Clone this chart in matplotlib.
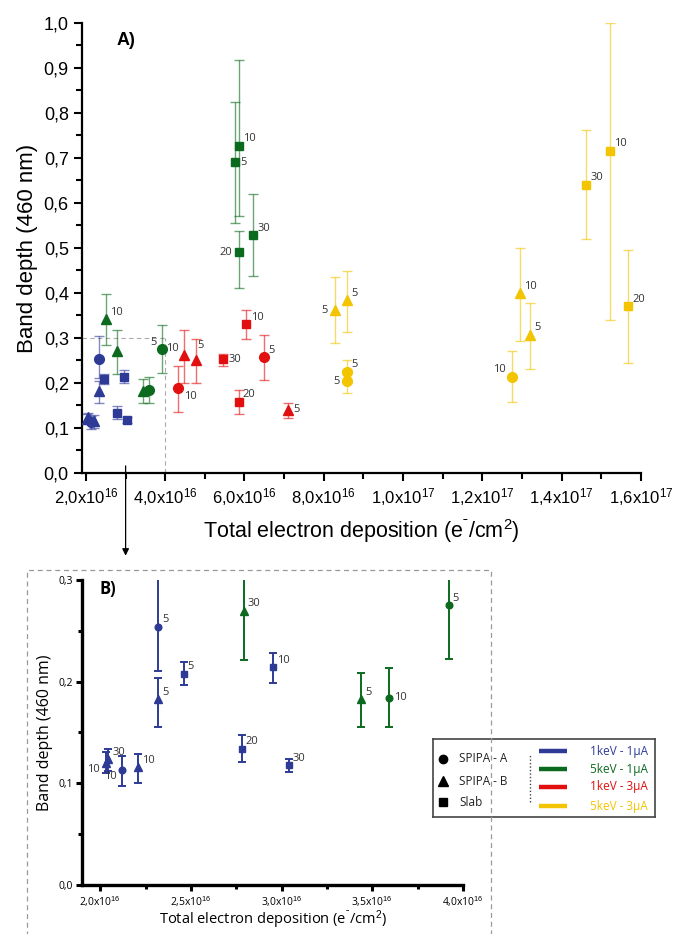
import numpy as np
import matplotlib
matplotlib.use('Agg')
import matplotlib.pyplot as plt
from matplotlib.ticker import MultipleLocator, FuncFormatter
from matplotlib.patches import Rectangle

plt.rcParams['mathtext.fontset'] = 'custom'
plt.rcParams['mathtext.rm'] = 'Liberation Sans'
plt.rcParams['mathtext.default'] = 'rm'

# ---- data (x: total electron deposition e-/cm2, y: band depth at 460 nm) ----
conditions = ['1keV - 1μA', '5keV - 1μA', '1keV - 3μA', '5keV - 3μA']
samples = ['SPIPA - A', 'SPIPA - B', 'Slab']

# 1keV - 1uA
s_1k1 = ['SPIPA - A', 'SPIPA - A', 'SPIPA - B', 'SPIPA - B', 'SPIPA - B', 'SPIPA - B', 'Slab', 'Slab', 'Slab', 'Slab']
x_1k1 = [2.12e16, 2.32e16, 2.03e16, 2.045e16, 2.21e16, 2.32e16, 2.46e16, 2.78e16, 2.95e16, 3.04e16]
y_1k1 = [0.113, 0.254, 0.120, 0.124, 0.116, 0.183, 0.208, 0.134, 0.214, 0.118]
lo_1k1 = [0.097, 0.210, 0.110, 0.112, 0.100, 0.155, 0.197, 0.121, 0.199, 0.111]
hi_1k1 = [0.127, 0.305, 0.131, 0.134, 0.129, 0.204, 0.219, 0.148, 0.228, 0.124]
t_1k1 = ['10', '5', '10', '30', '10', '5', '5', '20', '10', '30']

# 5keV - 1uA
s_5k1 = ['SPIPA - A', 'SPIPA - A', 'SPIPA - B', 'SPIPA - B', 'SPIPA - B', 'Slab', 'Slab', 'Slab', 'Slab']
x_5k1 = [3.59e16, 3.92e16, 2.50e16, 2.79e16, 3.44e16, 5.75e16, 5.87e16, 5.86e16, 6.22e16]
y_5k1 = [0.184, 0.275, 0.342, 0.270, 0.183, 0.690, 0.727, 0.491, 0.529]
lo_5k1 = [0.155, 0.222, 0.284, 0.221, 0.155, 0.555, 0.571, 0.412, 0.438]
hi_5k1 = [0.213, 0.329, 0.397, 0.318, 0.209, 0.824, 0.917, 0.538, 0.621]
t_5k1 = ['10', '5', '10', '30', '5', '5', '10', '20', '30']

# 1keV - 3uA
s_1k3 = ['SPIPA - A', 'SPIPA - A', 'SPIPA - B', 'SPIPA - B', 'SPIPA - B', 'Slab', 'Slab', 'Slab']
x_1k3 = [4.33e16, 6.50e16, 4.47e16, 4.77e16, 7.09e16, 5.45e16, 6.05e16, 5.85e16]
y_1k3 = [0.188, 0.257, 0.262, 0.250, 0.141, 0.253, 0.330, 0.158]
lo_1k3 = [0.136, 0.207, 0.201, 0.199, 0.122, 0.238, 0.297, 0.130]
hi_1k3 = [0.238, 0.307, 0.318, 0.297, 0.155, 0.264, 0.362, 0.184]
t_1k3 = ['10', '5', '10', '5', '5', '30', '10', '20']

# 5keV - 3uA
s_5k3 = ['SPIPA - A', 'SPIPA - A', 'SPIPA - A', 'SPIPA - B', 'SPIPA - B', 'SPIPA - B', 'SPIPA - B', 'Slab', 'Slab', 'Slab']
x_5k3 = [8.58e16, 8.58e16, 1.274e17, 8.28e16, 8.58e16, 1.296e17, 1.32e17, 1.463e17, 1.522e17, 1.568e17]
y_5k3 = [0.225, 0.204, 0.214, 0.362, 0.384, 0.400, 0.307, 0.641, 0.716, 0.370]
lo_5k3 = [0.200, 0.177, 0.158, 0.288, 0.313, 0.294, 0.232, 0.519, 0.341, 0.244]
hi_5k3 = [0.251, 0.231, 0.270, 0.436, 0.449, 0.499, 0.377, 0.762, 1.000, 0.496]
t_5k3 = ['5', '5', '10', '5', '5', '10', '5', '30', '10', '20']

# ---- style ----
colors = ['#2e3b96', '#0b6a1e', '#e10f0f', '#f3c400']
markers = {'SPIPA - A': 'o', 'SPIPA - B': '^', 'Slab': 's'}
msize_a = {'SPIPA - A': 7, 'SPIPA - B': 7.5, 'Slab': 6}
msize_b = {'SPIPA - A': 4.8, 'SPIPA - B': 5.5, 'Slab': 4.3}

# label placement for the time labels (None = not shown)
pos_a = [
    [None] * 10,
    [None, 'lu', 'ru', None, None, 'r', 'ru', 'l', 'ru'],
    ['rd', 'ru', 'lu', 'u', 'r', 'r', 'ru', 'ru'],
    ['ru', 'l', 'lu', 'l', 'ru', 'ru', 'ru', 'ru', 'ru', 'ru'],
]
pos_b = [
    ['ld', 'ru', 'ld', 'ru', 'ru', 'ru', 'ru', 'ru', 'ru', 'ru'],
    ['r', 'ru', None, 'ru', 'ru', None, None, None, None],
    [None] * 8,
    [None] * 10,
]
offsets = {
    'ru': (3, 1, 'left', 'bottom'), 'r': (4, 0, 'left', 'center'),
    'l': (-5, 0, 'right', 'center'), 'lu': (-4, 1, 'right', 'bottom'),
    'rd': (4, -2, 'left', 'top'), 'ld': (-4, -1, 'right', 'top'),
    'u': (1, 7, 'left', 'bottom'),
}

all_data = [
    (s_1k1, x_1k1, y_1k1, lo_1k1, hi_1k1, t_1k1),
    (s_5k1, x_5k1, y_5k1, lo_5k1, hi_5k1, t_5k1),
    (s_1k3, x_1k3, y_1k3, lo_1k3, hi_1k3, t_1k3),
    (s_5k3, x_5k3, y_5k3, lo_5k3, hi_5k3, t_5k3),
]


def sci_fmt(v, pos):
    if v <= 0:
        return ''
    exp = int(np.floor(np.log10(v) + 1e-9))
    mant = v / 10 ** exp
    return f'{mant:.1f}'.replace('.', ',') + 'x10$^{%d}$' % exp


def comma_fmt(v, pos):
    return f'{v:.1f}'.replace('.', ',')


def draw(ax, positions, msize, elw, alpha, capsize, fs, ymax):
    for ci, (s, x, y, lo, hi, t) in enumerate(all_data):
        c = colors[ci]
        for i in range(len(x)):
            if y[i] > ymax:
                continue  # point not shown in this panel
            yerr = [[y[i] - lo[i]], [hi[i] - y[i]]]
            ax.errorbar([x[i]], [y[i]], yerr=yerr, fmt='none', ecolor=c,
                        elinewidth=elw, capsize=capsize, capthick=elw, alpha=alpha, zorder=2)
            ax.plot([x[i]], [y[i]], marker=markers[s[i]], ms=msize[s[i]],
                    color=c, mec=c, ls='none', zorder=3)
            p = positions[ci][i]
            if p is not None:
                dx, dy, ha, va = offsets[p]
                ax.annotate(t[i], (x[i], y[i]), xytext=(dx, dy), textcoords='offset points',
                            ha=ha, va=va, fontsize=fs, color='#333333', family='Open Sans')


fig = plt.figure(figsize=(6.74, 9.34), dpi=100)

# ---------------- panel A ----------------
axA = fig.add_axes([0.1217, 0.4936, 0.829, 0.4818])
draw(axA, pos_a, msize_a, 1.0, 0.6, 3.5, 8, 1.0)
axA.set_xlim(1.9e16, 1.6e17)
axA.set_ylim(0, 1.0)
axA.xaxis.set_major_locator(MultipleLocator(2e16))
axA.xaxis.set_minor_locator(MultipleLocator(1e16))
axA.yaxis.set_major_locator(MultipleLocator(0.1))
axA.yaxis.set_minor_locator(MultipleLocator(0.05))
axA.xaxis.set_major_formatter(FuncFormatter(sci_fmt))
axA.yaxis.set_major_formatter(FuncFormatter(comma_fmt))
for sp in ['top', 'right']:
    axA.spines[sp].set_visible(False)
for sp in ['left', 'bottom']:
    axA.spines[sp].set_linewidth(1.6)
axA.tick_params(which='major', direction='out', length=6, width=1.5)
axA.tick_params(which='minor', direction='out', length=4, width=1.5)
for lab in axA.get_yticklabels():
    lab.set_fontfamily('Liberation Sans')
    lab.set_fontsize(13)
for lab in axA.get_xticklabels():
    lab.set_fontfamily('Liberation Sans')
    lab.set_fontsize(12)
axA.set_ylabel('Band depth (460 nm)', fontsize=16, family='Liberation Sans', labelpad=4)
axA.set_xlabel('Total electron deposition (e$^{\u02C9}$/cm$^{2}$)', fontsize=15.5,
               family='Liberation Sans', labelpad=6)
axA.text(0.062, 0.962, 'A)', transform=axA.transAxes, fontsize=13, fontweight='bold',
         family='Liberation Sans', va='center')

# zoom box marker and arrow
axA.plot([1.9e16, 4.0e16], [0.3, 0.3], ls=(0, (4, 3)), color='#aaaaaa', lw=0.8, zorder=1)
axA.plot([4.0e16, 4.0e16], [0, 0.3], ls=(0, (4, 3)), color='#aaaaaa', lw=0.8, zorder=1)
axA.annotate('', xy=(3.0e16, -0.19), xytext=(3.0e16, 0.022), xycoords='data',
             arrowprops=dict(arrowstyle='-|>', color='black', lw=0.9, mutation_scale=10),
             annotation_clip=False)

# ---------------- panel B ----------------
fig.patches.append(Rectangle((27 / 674, -0.02), (491 - 27) / 674, (934 - 570) / 934 + 0.02,
                             transform=fig.transFigure, fill=False, ls=(0, (4, 3)),
                             ec='#999999', lw=0.9))

axB = fig.add_axes([0.1217, 0.0525, 0.5653, 0.3265])
draw(axB, pos_b, msize_b, 1.4, 1.0, 2.6, 8, 0.3)
axB.set_xlim(1.9e16, 4.0e16)
axB.set_ylim(0, 0.3)
axB.xaxis.set_major_locator(MultipleLocator(0.5e16))
axB.xaxis.set_minor_locator(MultipleLocator(0.25e16))
axB.yaxis.set_major_locator(MultipleLocator(0.1))
axB.yaxis.set_minor_locator(MultipleLocator(0.05))
axB.xaxis.set_major_formatter(FuncFormatter(sci_fmt))
axB.yaxis.set_major_formatter(FuncFormatter(comma_fmt))
for sp in ['top', 'right']:
    axB.spines[sp].set_visible(False)
for sp in ['left', 'bottom']:
    axB.spines[sp].set_linewidth(2.4)
axB.tick_params(which='major', direction='out', length=4.5, width=2.2, labelsize=7.5, pad=2)
axB.tick_params(which='minor', direction='out', length=3, width=2.2)
for lab in axB.get_xticklabels() + axB.get_yticklabels():
    lab.set_fontfamily('Open Sans')
axB.set_ylabel('Band depth (460 nm)', fontsize=11.5, family='Open Sans', labelpad=4)
axB.set_xlabel('Total electron deposition (e$^{\u02C9}$/cm$^{2}$)', fontsize=10.5,
               family='Open Sans', labelpad=0)
axB.text(0.045, 0.97, 'B)', transform=axB.transAxes, fontsize=12, fontweight='bold',
         family='Open Sans', va='center')

# ---------------- legend ----------------
axL = fig.add_axes([433 / 674, (934 - 817) / 934, 222 / 674, 78 / 934])
axL.set_xlim(0, 1)
axL.set_ylim(0, 1)
axL.set_xticks([])
axL.set_yticks([])
for sp in axL.spines.values():
    sp.set_color('#444444')
    sp.set_linewidth(1.2)
for k, smp in enumerate(samples):
    yy = [0.744, 0.46, 0.19][k]
    axL.plot([0.045], [yy], marker=markers[smp], color='black', ms=[6, 7, 5.5][k], ls='none')
    axL.text(0.117, yy, smp, fontsize=8.5, family='Open Sans', va='center', color='#222222')
axL.plot([0.437, 0.437], [0.19, 0.81], ls=(0, (1, 1.5)), color='#444444', lw=1)
for k, cond in enumerate(conditions):
    yy = [0.846, 0.615, 0.385, 0.141][k]
    axL.plot([0.477, 0.604], [yy, yy], color=colors[k], lw=3.2, solid_capstyle='butt')
    axL.text(0.968, yy, cond, fontsize=8.5, family='Open Sans', va='center', ha='right',
             color=colors[k])

fig.savefig('out.png', dpi=100)
